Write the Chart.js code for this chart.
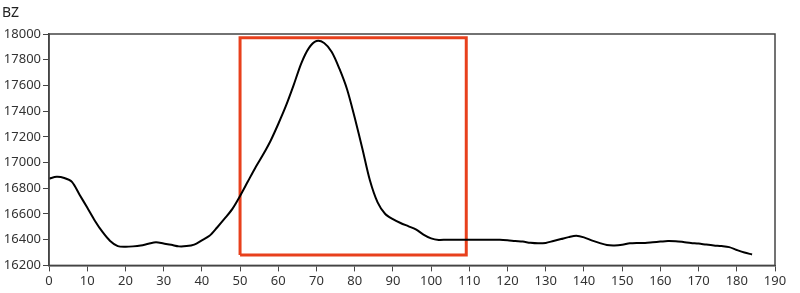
<!DOCTYPE html>
<html>
<head>
<meta charset="UTF-8">
<title>BZ</title>
<script src="https://cdn.jsdelivr.net/npm/chart.js"></script>
<style>
  html, body { margin: 0; padding: 0; background: #fff; }
  .wrap { position: relative; width: 800px; height: 293px; }
  .ylabel { position: absolute; left: 2px; top: 2px; font: 14px "Noto Sans", sans-serif; color: #222; }
</style>
</head>
<body>
<div class="wrap">
  <div class="ylabel">BZ</div>
  <canvas id="chart" width="800" height="293"></canvas>
</div>
<script>
// curve samples
const xs = [0,2,4,6,8,10,12,14,16,18,20,22,24,26,28,30,32,34,36,38,40,42,44,46,48,50,52,54,56,58,60,62,64,66,68,70,72,74,76,78,80,82,84,86,88,90,92,94,96,98,100,102,104,106,108,110,112,114,116,118,120,122,124,126,128,130,132,134,136,138,140,142,144,146,148,150,152,154,156,158,160,162,164,166,168,170,172,174,176,178,180,182,184];
const bz = [16875,16889,16880,16850,16750,16650,16548,16460,16390,16350,16345,16348,16355,16368,16380,16370,16360,16348,16350,16362,16395,16430,16495,16565,16640,16740,16850,16960,17060,17170,17300,17440,17600,17770,17890,17945,17930,17860,17730,17570,17350,17110,16860,16690,16600,16560,16530,16505,16480,16440,16410,16398,16400,16400,16400,16400,16400,16400,16400,16400,16396,16390,16385,16376,16372,16375,16390,16405,16420,16430,16418,16395,16375,16358,16355,16360,16372,16375,16375,16380,16385,16390,16388,16382,16375,16370,16362,16355,16350,16342,16320,16300,16285];

// red highlight box corners
const boxX = [50, 109.2, 109.2, 50, 50];
const boxY = [16280, 16280, 17970, 17970, 16280];

const yTicks = [16200,16400,16600,16800,17000,17200,17400,17600,17800,18000];

// frame around the plot area
const frame = {
    id: 'frame',
    afterDatasetsDraw(chart) {
        const a = chart.chartArea, c = chart.ctx;
        c.save();
        c.strokeStyle = '#444';
        c.lineWidth = 1.5;
        c.strokeRect(a.left, a.top, a.right - a.left, a.bottom - a.top);
        c.restore();
    }
};

new Chart(document.getElementById('chart').getContext('2d'), {
    type: 'line',
    data: {
        datasets: [{
            data: xs.map((x, i) => ({ x: x, y: bz[i] })),
            borderColor: '#000',
            borderWidth: 2,
            pointRadius: 0,
            tension: 0.3
        }, {
            data: boxX.map((x, i) => ({ x: x, y: boxY[i] })),
            borderColor: '#e8401c',
            borderWidth: 3,
            pointRadius: 0,
            tension: 0
        }]
    },
    options: {
        responsive: false,
        animation: false,
        layout: { padding: { top: 34, right: 25, left: 0, bottom: 2 } },
        plugins: { legend: { display: false }, tooltip: { enabled: false } },
        scales: {
            x: {
                type: 'linear',
                min: 0, max: 190,
                ticks: { stepSize: 10, color: '#333', padding: 2, font: { family: 'Noto Sans', size: 13 } },
                grid: { drawOnChartArea: false, tickLength: 6, color: '#444' },
                border: { color: '#444', width: 1.5 }
            },
            y: {
                min: 16200, max: 18000,
                afterBuildTicks: s => { s.ticks = yTicks.map(v => ({ value: v })); },
                afterFit: s => { s.width = 49; },
                ticks: {
                    color: '#333', padding: 2, font: { family: 'Noto Sans', size: 13 },
                    callback: v => String(v)
                },
                grid: { drawOnChartArea: false, tickLength: 6, color: '#444' },
                border: { color: '#444', width: 1.5 }
            }
        }
    },
    plugins: [frame]
});
</script>
</body>
</html>
